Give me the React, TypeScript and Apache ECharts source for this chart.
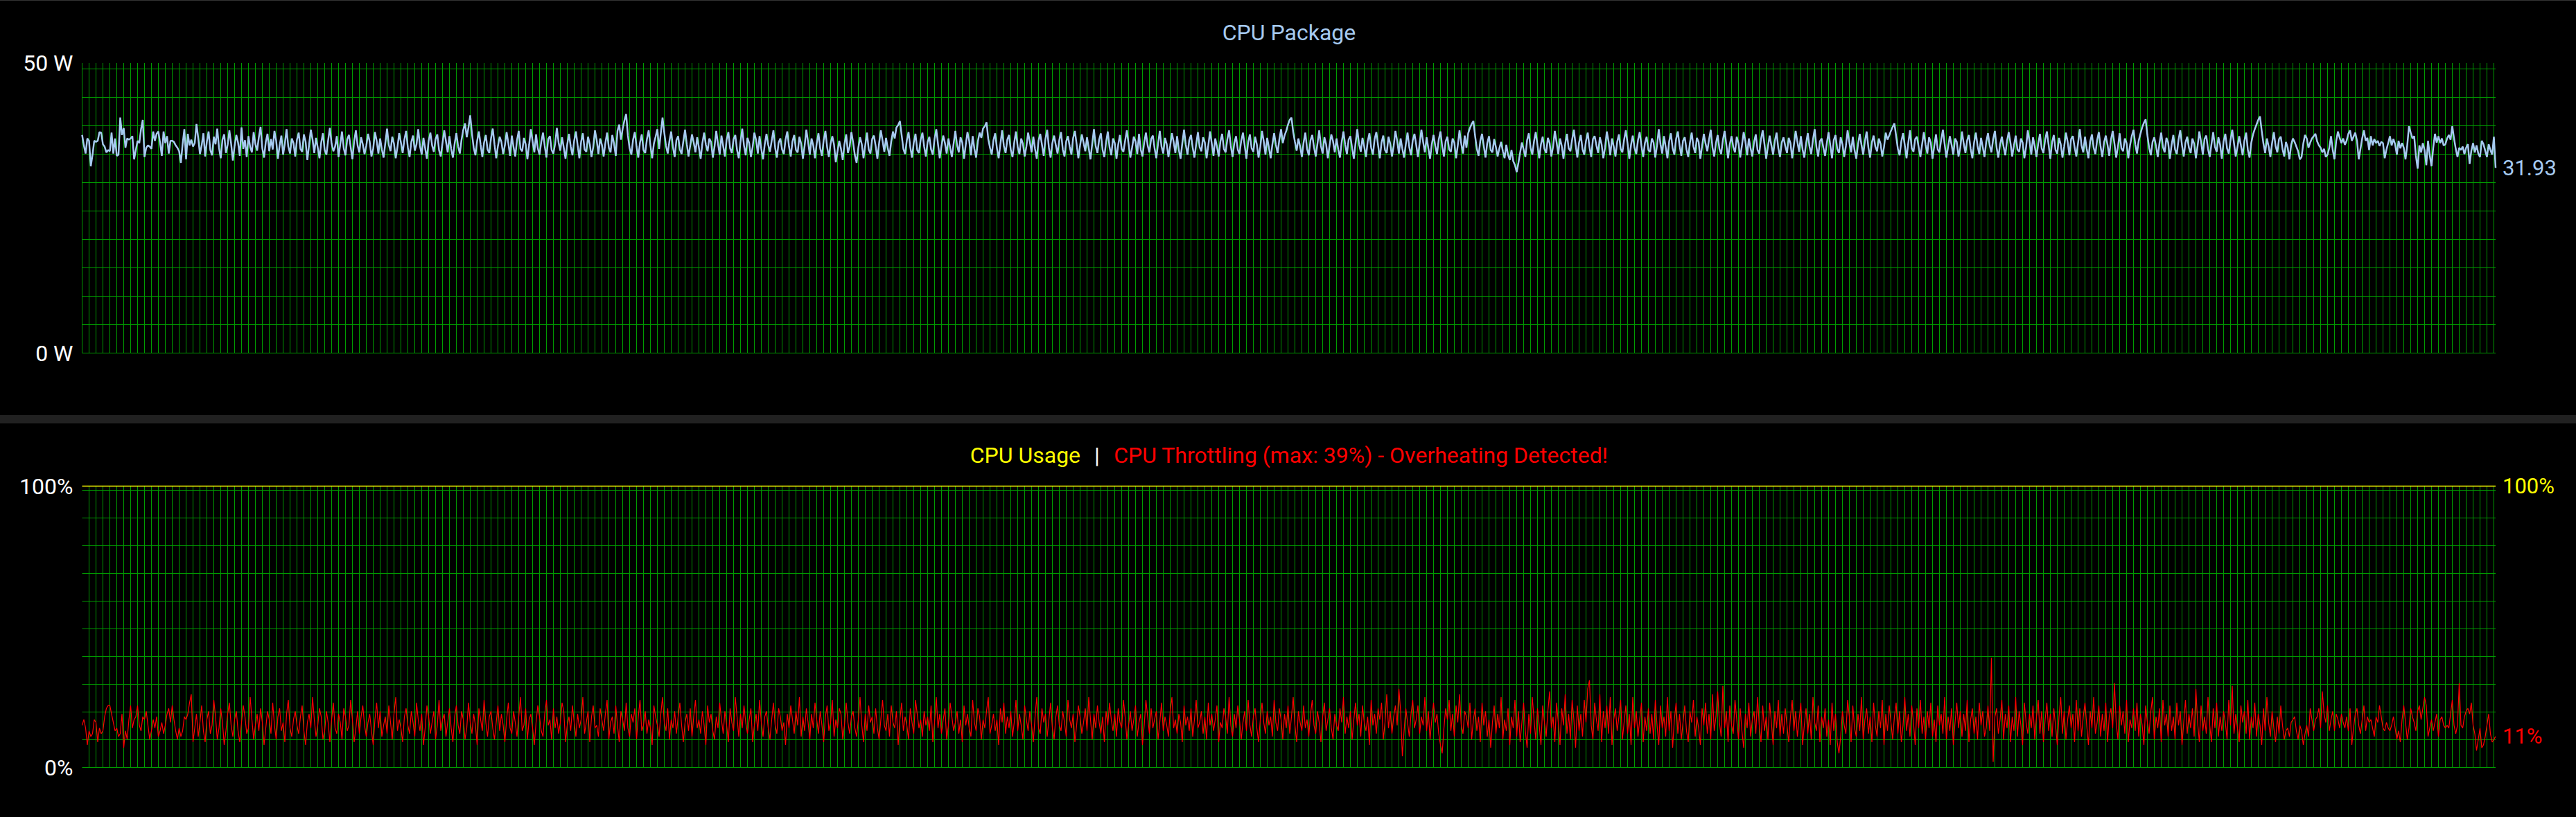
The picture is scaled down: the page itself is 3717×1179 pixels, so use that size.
import React, { useEffect, useRef } from "react";
import * as echarts from "echarts";

// samples in the visible window (one sample per 2.5 px, 4 samples per grid cell)
const WINDOW_SAMPLES = 1394;
const SAMPLES_PER_CELL = 4;

// CPU Package power (W)
const packageWatts = [
  37.6,35.8,34.4,37.0,36.6,32.2,34.2,36.6,36.4,36.6,38.1,38.0,36.0,35.6,34.6,35.0,34.8,38.0,34.4,37.0,
  34.0,34.2,40.6,37.6,38.8,35.4,37.0,36.8,37.0,37.4,33.4,35.0,36.6,36.2,38.6,40.2,33.8,35.4,35.8,35.6,
  35.2,38.2,36.6,37.8,38.2,36.2,34.0,38.2,36.2,37.4,34.4,36.6,36.6,36.4,35.8,35.4,34.8,32.8,36.0,38.6,
  33.4,37.8,35.8,36.8,35.6,
  36.2,39.5,37.1,34.3,35.8,37.9,33.9,36.5,38.2,35.0,34.1,37.3,36.0,38.7,35.4,33.6,36.8,37.7,34.5,35.9,
  38.4,36.1,33.2,35.7,37.6,36.3,34.0,38.9,35.2,36.7,33.8,37.4,35.5,34.6,38.1,36.0,34.9,37.2,39.0,35.3,
  33.7,36.4,37.8,34.8,36.9,35.1,38.3,36.6,33.5,35.8,37.5,34.2,36.1,38.6,35.6,34.4,37.0,36.2,33.9,36.8,
  38.0,35.2,34.7,37.7,36.4,33.3,35.9,38.5,36.8,34.5,37.1,35.4,33.6,36.3,37.9,35.0,34.2,36.7,38.8,36.1,
  34.8,35.6,37.4,33.8,36.0,38.2,35.3,34.1,36.9,37.6,35.5,33.4,36.5,38.4,35.8,34.6,37.2,36.0,34.3,35.7,
  37.8,36.4,33.9,35.2,38.1,36.6,34.4,37.0,35.1,33.7,36.2,38.7,35.9,34.8,37.3,36.1,33.6,35.5,37.9,36.3,
  34.5,36.8,38.3,35.4,33.8,36.4,37.5,34.9,36.0,38.6,35.7,34.2,37.1,35.3,33.5,36.6,38.0,35.8,34.7,36.9,
  37.7,35.0,33.9,36.2,38.4,36.5,34.6,37.4,35.2,33.7,36.1,37.9,35.6,34.4,36.8,38.5,39.6,37.2,38.9,41.0,
  37.8,35.4,34.1,36.6,38.2,35.9,33.8,36.3,37.6,35.1,34.5,37.0,38.7,36.0,33.6,35.7,37.3,36.4,34.3,35.8,
  38.1,36.2,34.0,37.5,35.5,33.9,36.7,38.3,35.2,34.8,37.1,36.0,33.4,35.9,38.6,36.5,34.6,37.7,35.3,34.2,
  36.4,38.0,35.7,33.7,36.9,37.4,35.0,34.4,36.1,38.8,36.3,34.9,37.2,35.4,33.5,36.0,37.8,35.6,34.1,36.6,
  38.2,35.8,33.6,36.4,37.9,35.1,34.7,37.3,36.0,33.8,35.5,38.4,36.7,34.3,37.0,35.9,33.9,36.2,38.0,35.4,
  34.6,37.6,36.1,34.0,38.3,39.4,36.8,38.7,40.1,41.2,37.5,35.3,34.2,36.8,38.1,35.6,33.7,36.3,37.7,35.0,
  34.5,36.9,38.4,35.8,33.6,36.1,37.3,38.6,35.2,37.9,40.6,38.0,35.7,34.4,36.6,38.2,35.5,33.8,36.7,37.4,
  35.1,34.3,36.5,38.5,36.0,33.9,35.8,37.7,36.3,34.6,37.2,35.4,33.5,36.2,38.0,35.9,34.8,37.0,36.4,33.7,
  35.6,38.3,36.1,34.2,37.5,35.7,33.9,36.8,38.1,35.3,34.5,36.9,37.6,35.0,33.6,36.4,38.7,35.8,34.1,37.1,
  36.2,33.8,35.5,38.0,36.7,34.4,37.4,35.2,33.4,36.0,37.8,35.9,34.7,36.6,38.4,35.4,33.7,36.3,37.0,35.1,
  34.3,36.8,38.2,35.6,33.9,36.5,37.6,35.0,34.6,37.3,36.1,33.5,35.7,38.5,36.4,34.2,37.0,35.8,33.6,36.2,
  37.9,35.3,34.0,36.7,38.3,35.5,33.8,36.1,37.4,35.9,32.9,34.8,36.6,35.2,33.3,36.0,37.7,34.5,35.6,38.1,
  36.3,34.1,32.8,35.4,37.2,36.0,33.6,35.8,38.0,35.1,34.4,36.9,37.5,35.7,33.5,36.2,38.4,36.6,34.7,37.1,
  35.3,34.0,36.5,38.2,37.0,38.9,39.3,40.0,37.6,35.2,34.3,36.7,38.1,35.5,33.7,36.3,37.8,35.0,34.5,36.8,
  38.0,35.6,33.9,36.4,37.3,35.1,34.2,36.9,38.6,36.0,33.6,35.7,37.5,36.2,34.4,37.0,35.4,33.8,36.1,38.3,
  35.8,34.6,37.2,36.3,33.5,35.9,38.1,36.6,34.1,37.4,35.2,33.7,36.5,38.0,37.1,38.7,39.1,39.8,36.9,35.4,
  34.2,36.7,37.9,35.3,33.6,36.0,38.4,35.7,34.5,36.8,37.6,35.0,33.8,36.3,38.2,35.5,34.3,37.0,36.1,33.9,
  35.6,38.0,36.4,34.6,37.3,35.2,33.5,36.6,37.8,35.9,34.0,36.9,38.5,35.4,33.7,36.2,37.5,35.8,34.4,36.7,
  38.1,35.1,33.9,36.5,37.4,35.6,34.2,37.1,38.3,36.0,33.6,35.8,37.7,36.3,34.8,37.2,35.3,33.4,36.1,38.6,
  35.7,34.5,36.8,37.9,35.0,33.8,36.4,38.2,35.5,34.1,37.0,36.2,33.5,35.9,37.6,35.2,34.7,36.6,38.4,36.0,
  33.7,35.4,37.3,36.5,34.3,37.8,35.1,33.9,36.3,38.0,35.8,34.6,36.9,37.5,35.3,33.6,36.1,38.3,35.6,34.4,
  37.1,36.0,33.8,35.7,37.9,36.4,34.5,37.4,35.0,33.5,36.2,38.5,35.9,34.2,36.7,37.6,35.4,33.7,36.0,38.1,
  35.5,34.8,37.2,36.3,33.6,35.8,38.2,36.1,34.0,37.0,35.6,33.9,36.5,37.8,35.2,34.6,36.9,38.4,35.7,33.8,
  36.2,37.4,35.1,34.3,36.6,38.0,35.8,33.5,36.4,37.7,35.3,34.7,37.3,36.0,33.7,35.5,38.3,36.5,34.2,37.1,
  35.4,33.6,36.0,37.9,35.9,34.5,36.8,38.6,36.2,37.5,38.3,39.4,40.2,40.6,38.1,36.4,34.9,37.0,35.6,33.8,
  36.3,38.0,35.2,34.1,36.7,37.6,35.5,33.9,36.1,38.4,35.7,34.4,37.2,36.0,33.6,35.8,37.7,36.5,34.6,37.0,
  35.1,33.7,36.4,38.2,35.9,34.3,36.8,37.4,35.3,33.5,36.2,38.6,36.0,34.7,37.1,35.6,33.8,36.5,37.9,35.4,
  34.2,36.9,38.1,35.8,33.6,36.3,37.5,35.0,34.5,37.3,36.1,33.9,35.7,38.3,36.6,34.4,37.0,35.2,33.7,36.0,
  38.0,35.5,34.1,36.7,37.8,35.9,33.8,36.2,38.5,36.4,34.6,37.2,35.3,33.5,36.0,37.6,35.7,34.3,36.8,38.2,
  35.6,33.9,36.5,37.3,35.1,34.7,37.0,36.3,33.6,35.8,38.4,36.1,34.4,37.5,35.4,37.9,38.8,39.5,40.0,37.4,
  35.2,34.0,36.6,37.8,35.7,33.7,36.2,37.4,35.0,34.6,36.9,35.5,33.9,35.3,36.4,34.8,33.6,35.9,34.2,33.3,
  35.0,33.1,32.4,31.2,32.8,34.6,36.3,35.1,33.8,36.7,37.9,35.4,34.2,36.5,38.1,35.8,33.6,36.0,37.3,35.2,
  34.5,37.1,36.2,33.9,35.6,38.3,36.4,34.3,37.0,35.7,33.5,36.1,37.8,35.3,34.8,36.8,38.5,35.9,33.7,36.3,
  37.6,35.1,34.2,36.6,38.0,35.5,33.8,36.9,37.4,35.8,34.5,37.2,36.0,33.6,35.4,38.2,36.5,34.1,37.0,35.6,
  33.9,36.4,37.7,35.2,34.6,36.8,38.4,36.1,33.5,35.9,37.5,35.4,34.3,36.7,38.1,35.7,33.8,36.2,37.3,35.0,
  34.7,37.0,36.3,33.7,35.8,38.6,36.0,34.4,37.4,35.5,33.6,36.5,37.9,35.3,34.2,36.9,38.2,35.8,34.0,36.6,
  37.2,35.1,33.8,36.3,38.0,35.6,34.5,37.1,36.4,33.5,35.7,37.8,36.1,34.8,36.8,38.5,35.4,33.9,36.2,37.6,
  35.2,34.3,36.7,38.3,35.9,33.6,36.0,37.4,35.5,34.6,37.3,36.2,33.7,35.8,38.1,36.5,34.1,37.0,35.3,33.9,
  36.4,37.7,35.0,34.4,36.9,38.4,36.0,33.5,35.6,37.5,35.8,34.2,36.6,38.0,35.3,33.8,36.3,37.2,35.7,34.5,
  37.1,36.2,33.6,35.9,38.3,36.4,34.7,37.4,35.1,33.7,36.1,37.9,35.6,34.3,36.8,38.6,35.5,33.9,36.5,37.0,
  35.4,34.0,36.2,38.1,35.8,33.6,36.7,37.6,35.2,34.5,37.2,36.0,33.8,35.7,38.4,36.3,34.6,37.3,35.0,33.5,
  36.0,37.8,35.9,34.2,36.6,38.2,35.4,33.7,36.3,37.5,35.6,34.8,37.0,36.1,33.9,35.5,38.0,36.8,37.5,38.3,
  39.0,39.6,37.4,35.2,34.1,36.5,37.9,35.8,33.6,36.2,38.4,35.3,34.7,36.9,37.3,35.5,33.8,36.0,38.1,35.9,
  34.4,37.2,36.3,33.5,35.7,37.7,35.1,34.6,36.8,38.5,36.0,33.7,35.6,37.4,35.9,34.2,37.0,36.4,33.9,35.3,
  38.2,36.1,34.5,36.7,37.6,35.2,33.6,36.3,38.0,35.7,34.3,37.1,35.5,33.8,36.4,37.9,35.8,34.6,36.9,38.3,
  35.4,33.7,36.0,37.3,35.6,34.1,36.6,38.1,36.2,33.9,35.8,37.5,35.1,34.7,37.0,36.3,33.6,35.5,38.4,36.5,
  34.2,37.2,35.7,33.8,36.1,37.8,35.3,34.5,36.8,38.2,35.9,33.5,36.4,37.6,35.0,34.4,37.1,36.0,33.7,35.6,
  38.0,36.4,34.1,36.9,37.4,35.5,33.9,36.2,38.6,35.8,34.6,37.3,35.2,33.6,36.5,37.7,35.4,34.3,36.7,38.1,
  35.6,33.8,36.3,37.5,35.9,34.0,36.8,38.3,36.1,33.7,35.5,37.9,35.3,34.8,37.0,36.2,33.6,35.8,37.4,38.5,
  36.0,34.4,36.6,37.8,38.9,39.7,40.3,37.6,35.4,34.1,36.4,37.2,35.7,33.8,36.2,38.0,35.5,34.6,37.1,36.3,
  33.5,35.9,37.6,35.1,34.3,36.8,38.4,35.8,33.9,36.3,37.3,35.4,34.5,37.0,36.1,33.6,35.7,38.2,36.4,34.2,
  36.9,37.5,35.2,33.8,36.0,38.1,35.6,34.7,37.2,35.9,33.5,36.5,37.8,35.3,34.4,36.7,38.5,36.2,33.9,35.5,
  37.4,35.8,34.1,36.6,38.0,35.0,33.7,36.3,37.7,38.6,39.4,40.2,40.8,38.3,36.1,34.5,37.0,35.6,33.8,36.2,
  38.1,35.7,34.6,36.9,37.3,35.2,33.9,36.4,
  35.4,33.4,35.9,37.0,36.4,35.6,34.8,33.4,33.8,36.1,37.6,37.0,35.4,36.3,37.0,37.4,37.8,36.5,35.8,35.4,
  34.6,35.2,33.8,34.2,35.4,37.4,35.0,33.4,36.6,38.2,37.1,36.2,37.0,35.9,36.6,37.8,38.4,36.6,37.3,38.0,
  36.6,33.4,35.2,37.0,38.4,36.6,37.1,35.0,37.4,35.8,36.9,36.2,36.6,35.7,36.4,36.2,33.6,35.1,36.2,37.4,
  35.8,36.9,36.0,34.2,36.6,35.3,36.2,35.4,33.4,35.8,39.1,38.0,37.0,37.4,34.0,31.8,35.8,34.6,36.2,35.0,
  32.4,36.6,34.1,32.2,35.4,37.8,36.3,37.4,36.2,37.0,35.8,36.0,37.0,37.6,36.8,39.1,37.0,35.2,33.8,35.4,
  35.0,35.6,34.3,35.4,36.0,32.6,34.9,36.2,34.6,35.8,34.4,33.8,36.6,36.0,34.9,33.8,36.0,35.0,34.2,37.3,
  31.93,
];

// CPU Throttling (%)
const throttlePct = [
  15,17,14,8,13,11,12,17,16,9,14,12,13,18,21,22,22,19,16,13,
  14,11,12,19,7,13,10,17,22,14,17,18,22,15,13,18,17,20,15,10,
  13,17,14,18,11,13,16,12,15,19,21,16,22,17,13,10,14,11,13,18,
  17,19,23,26,9,
  14,19,11,16,22,13,9,17,20,12,15,24,18,10,14,21,16,8,13,19,
  23,15,11,17,20,13,9,16,22,18,12,14,25,17,10,15,19,13,21,16,
  8,14,20,17,12,23,15,10,18,21,13,16,9,19,24,14,11,17,20,15,
  12,18,22,13,8,16,19,14,25,17,11,15,21,18,10,13,20,16,9,17,
  23,14,12,19,16,10,21,18,13,15,24,17,9,14,20,12,18,22,15,11,
  16,19,13,8,17,23,14,20,11,15,18,12,22,16,10,19,25,13,17,14,
  9,18,21,15,12,20,16,11,23,17,13,19,8,14,22,18,12,16,20,10,
  15,24,13,17,19,11,16,21,14,9,18,22,15,12,20,17,10,14,23,16,
  12,19,15,8,21,17,13,24,16,11,18,20,14,10,16,22,13,19,15,9,
  17,23,14,12,20,16,11,18,25,13,15,21,10,17,19,14,8,16,22,18,
  13,11,19,24,15,17,10,21,14,18,12,16,23,20,9,15,18,13,22,16,
  11,19,14,17,25,12,16,20,9,18,22,14,15,11,21,17,13,19,24,10,
  16,18,12,22,15,9,20,17,13,23,14,11,19,16,21,10,18,24,13,15,
  20,12,17,14,8,22,18,15,11,19,25,16,13,21,10,17,14,20,12,18,
  23,15,9,16,19,13,21,11,18,24,14,17,12,20,15,8,22,16,19,13,
  10,18,14,23,17,12,20,15,9,21,16,13,25,18,11,19,14,22,16,12,
  17,21,9,15,19,13,24,16,11,18,20,14,10,17,23,15,12,21,18,13,
  16,8,19,14,22,17,12,20,15,25,11,18,13,21,16,10,19,14,23,17,
  12,20,15,9,18,22,13,16,24,11,17,14,21,19,10,15,23,16,12,18,
  20,14,11,17,25,15,9,19,13,22,16,18,12,21,14,10,17,24,15,13,
  19,11,22,16,14,20,8,17,23,13,18,15,10,21,16,12,24,19,14,17,
  11,20,15,18,13,22,9,16,25,14,19,12,17,21,10,15,23,18,13,16,
  20,12,17,9,22,15,19,14,11,24,16,13,21,18,10,17,14,20,25,12,
  15,19,13,17,8,21,16,23,12,18,14,20,11,16,24,13,19,15,10,22,
  17,13,20,15,9,18,25,14,12,21,16,19,11,17,23,14,10,18,22,15,
  13,20,16,11,24,17,14,19,9,15,22,18,12,16,21,13,25,17,10,19,
  14,22,16,12,18,9,20,15,23,17,13,19,11,21,16,14,24,18,10,15,
  20,13,17,22,11,16,19,8,15,24,18,12,21,14,17,20,10,16,23,13,
  18,15,11,20,25,14,17,12,19,16,9,22,15,18,13,21,11,17,24,14,
  16,20,12,18,10,23,15,19,13,17,22,9,16,14,21,18,12,25,15,11,
  19,14,22,17,10,16,20,13,24,15,11,18,21,14,9,17,23,16,12,20,
  15,18,11,24,16,13,21,17,10,19,14,22,12,18,25,15,9,20,16,13,
  22,14,17,11,19,24,15,12,20,16,9,18,23,13,17,21,14,10,19,15,
  13,21,16,25,12,18,14,20,10,17,23,15,19,11,22,16,13,18,8,24,
  15,19,12,21,17,23,10,16,26,14,20,12,18,22,15,28,20,4,13,21,
  16,11,19,24,14,17,22,12,18,15,25,13,20,10,17,23,16,19,12,8,
  5,14,21,17,24,13,19,11,22,16,26,15,12,20,18,14,23,10,17,21,
  13,18,9,23,15,20,11,17,7,16,22,12,19,14,25,10,17,13,21,8,
  18,14,24,11,20,9,16,23,13,7,19,12,25,17,10,21,15,8,22,16,
  11,20,27,14,18,9,23,16,8,21,15,26,12,19,10,24,17,7,22,13,
  19,11,24,16,28,31,15,10,23,17,13,26,9,20,14,22,12,25,8,17,
  21,13,18,24,10,16,22,12,19,8,25,14,20,11,17,23,9,18,13,21,
  12,19,10,24,15,8,22,14,18,11,25,13,20,7,17,23,12,19,10,16,
  22,13,9,20,16,24,11,18,14,8,21,15,23,12,19,10,26,13,18,27,
  16,11,29,14,20,9,22,15,12,24,17,10,21,13,7,19,14,23,11,17,
  20,12,25,15,9,22,13,18,10,23,16,8,20,14,24,11,19,12,21,15,
  9,18,24,13,20,11,17,23,8,15,21,12,19,10,25,16,13,22,9,18,
  14,21,11,17,8,23,13,19,9,5,11,20,15,12,24,18,9,22,14,11,
  19,13,25,10,17,21,12,18,9,23,15,11,20,14,24,8,19,13,22,16,
  10,18,23,12,20,9,15,25,13,19,11,22,16,8,21,14,24,12,18,10,
  20,14,23,11,17,9,22,15,19,12,25,10,18,13,21,8,16,23,14,20,
  11,19,13,24,9,17,21,12,18,10,23,15,20,11,14,22,13,39,2,18,
  21,12,17,24,10,19,14,22,9,18,13,25,11,20,15,8,23,16,12,19,
  14,22,10,18,24,12,20,9,17,23,13,19,11,21,15,8,18,25,12,20,
  10,17,22,14,19,9,24,13,21,11,18,23,15,8,20,14,25,12,16,22,
  11,19,13,23,9,18,21,14,30,16,10,22,15,20,12,24,9,17,14,21,
  13,23,11,19,15,8,22,16,12,20,25,10,18,14,21,9,24,15,19,11,
  22,13,18,10,23,15,20,8,16,24,12,19,14,21,11,28,16,9,22,13,
  18,12,25,15,9,21,14,23,11,18,13,20,16,10,24,15,29,12,19,14,
  9,22,16,20,12,24,10,18,14,23,11,19,15,8,21,13,25,16,11,20,
  14,9,18,12,22,15,10,13,
  14,11,16,17,18,13,10,15,13,8,12,15,11,21,17,13,17,18,21,14,
  27,19,16,22,13,17,20,13,19,17,14,19,16,14,18,13,21,8,14,19,
  21,15,12,17,22,13,18,16,17,14,11,18,16,22,18,14,13,16,14,13,
  15,18,14,10,13,9,17,22,16,10,14,21,18,16,13,20,22,17,21,25,
  22,11,14,17,13,16,19,11,17,18,15,14,15,14,19,24,15,12,15,30,
  15,14,18,20,21,19,23,15,12,6,10,14,7,8,11,15,19,12,9,10,
  11,
];

// CPU Usage (%): flat at 100 across the whole window
const cpuUsageLevel = 100;
const cpuUsagePct = new Array(throttlePct.length).fill(cpuUsageLevel);

const wattTicks = [0, 50];
const pctTicks = [0, 100];

const W = 3717;
const H = 1179;
const FONT = "Roboto";
const GRID_GREEN = "#009c00";
const BLUE = "#a6caf0";

export default function App() {
  const ref = useRef<HTMLDivElement>(null);

  useEffect(() => {
    document.body.style.margin = "0";
    document.body.style.background = "#000";
    const chart = echarts.init(ref.current!, null, { renderer: "svg" });

    const maxThr = Math.max(...throttlePct);

    const plotLeft = 118.5;
    const plotWidth = 3482.5;

    const xMain = (gridIndex: number, showMin: boolean) => ({
      gridIndex,
      type: "value",
      min: 0,
      max: WINDOW_SAMPLES - 1,
      interval: SAMPLES_PER_CELL,
      axisLine: { show: false },
      axisTick: { show: false },
      axisLabel: { show: false },
      splitLine: {
        show: true,
        showMinLine: showMin,
        showMaxLine: false,
        lineStyle: { color: GRID_GREEN, width: 1 },
      },
    });
    const xHidden = (gridIndex: number) => ({
      gridIndex,
      type: "value",
      show: false,
      min: 0,
      max: 1,
    });
    const yHelper = (gridIndex: number) => ({
      gridIndex,
      type: "value",
      min: 0,
      max: 10,
      interval: 1,
      axisLine: { show: false },
      axisTick: { show: false },
      axisLabel: { show: false },
      splitLine: { show: true, lineStyle: { color: GRID_GREEN, width: 1 } },
    });
    const endLabel = (color: string, fmt: (p: any) => string) => ({
      show: true,
      distance: 10,
      color,
      fontSize: 31,
      fontFamily: FONT,
      formatter: fmt,
    });

    const option: any = {
      animation: false,
      backgroundColor: "#000",
      grid: [
        { left: plotLeft, top: 91, width: plotWidth, height: 418.5 },
        { left: plotLeft, top: 99.5, width: plotWidth, height: 410 },
        { left: plotLeft, top: 701.5, width: plotWidth, height: 406 },
        { left: plotLeft, top: 707.5, width: plotWidth, height: 400 },
      ],
      xAxis: [xMain(0, true), xHidden(1), xMain(2, false), xHidden(3)],
      yAxis: [
        {
          gridIndex: 0,
          type: "value",
          min: wattTicks[0],
          max: wattTicks[1],
          interval: wattTicks[1] - wattTicks[0],
          axisLine: { show: false },
          axisTick: { show: false },
          splitLine: { show: false },
          axisLabel: {
            color: "#ffffff",
            fontSize: 32,
            fontFamily: FONT,
            margin: 13,
            formatter: (v: number) => `${v} W`,
          },
        },
        yHelper(1),
        {
          gridIndex: 2,
          type: "value",
          min: pctTicks[0],
          max: pctTicks[1],
          interval: pctTicks[1] - pctTicks[0],
          axisLine: { show: false },
          axisTick: { show: false },
          splitLine: { show: false },
          axisLabel: {
            color: "#ffffff",
            fontSize: 32,
            fontFamily: FONT,
            margin: 13,
            formatter: (v: number) => `${v}%`,
          },
        },
        yHelper(3),
      ],
      series: [
        {
          name: "CPU Package",
          type: "line",
          xAxisIndex: 0,
          yAxisIndex: 0,
          data: packageWatts.map((v, i) => [i, v]),
          symbol: "none",
          showSymbol: false,
          clip: false,
          silent: true,
          z: 5,
          lineStyle: { color: BLUE, width: 2.5 },
          itemStyle: { color: BLUE },
          endLabel: endLabel(BLUE, (p: any) => Number(p.value[1]).toFixed(2)),
        },
        {
          name: "CPU Usage",
          type: "line",
          xAxisIndex: 2,
          yAxisIndex: 2,
          data: cpuUsagePct.map((v, i) => [i, v]),
          symbol: "none",
          showSymbol: false,
          clip: false,
          silent: true,
          z: 5,
          lineStyle: { color: "#ffff00", width: 1.6 },
          itemStyle: { color: "#ffff00" },
          endLabel: endLabel("#ffff00", (p: any) => `${p.value[1]}%`),
        },
        {
          name: "CPU Throttling",
          type: "line",
          xAxisIndex: 2,
          yAxisIndex: 2,
          data: throttlePct.map((v, i) => [i, v]),
          symbol: "none",
          showSymbol: false,
          clip: false,
          silent: true,
          z: 6,
          lineStyle: { color: "#ff0000", width: 1.2 },
          itemStyle: { color: "#ff0000" },
          endLabel: endLabel("#ff0000", (p: any) => `${p.value[1]}%`),
        },
      ],
      graphic: [
        { type: "rect", shape: { x: 0, y: 0, width: W, height: 1 }, style: { fill: "#333333" }, silent: true },
        { type: "rect", shape: { x: 0, y: 599, width: W, height: 12 }, style: { fill: "#212121" }, silent: true },
        {
          type: "text",
          x: 1860,
          y: 47,
          silent: true,
          style: {
            text: "CPU Package",
            fill: BLUE,
            fontSize: 32,
            fontFamily: FONT,
            align: "center",
            verticalAlign: "middle",
          },
        },
        {
          type: "text",
          x: 1860,
          y: 657,
          silent: true,
          style: {
            text: `{u|CPU Usage}{s||}{t|CPU Throttling (max: ${maxThr}%) - Overheating Detected!}`,
            align: "center",
            verticalAlign: "middle",
            fontSize: 32,
            fontFamily: FONT,
            rich: {
              u: { fill: "#ffff00", fontSize: 32, fontFamily: FONT },
              s: { fill: "#ffffff", fontSize: 32, fontFamily: FONT, padding: [0, 20, 0, 20] },
              t: { fill: "#ff0000", fontSize: 32, fontFamily: FONT },
            },
          },
        },
      ],
    };

    chart.setOption(option);
    return () => chart.dispose();
  }, []);

  return <div ref={ref} style={{ width: W, height: H }} />;
}
